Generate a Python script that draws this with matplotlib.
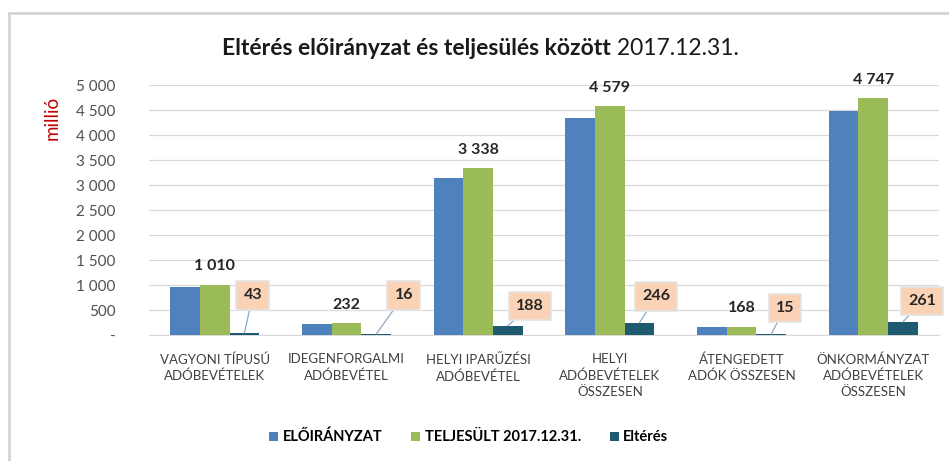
import numpy as np
import matplotlib
matplotlib.use("Agg")
import matplotlib.pyplot as plt
from matplotlib.patches import Rectangle
from matplotlib.ticker import FuncFormatter

plt.rcParams['font.family'] = ['Lato', 'DejaVu Sans']

# adatok (millió Ft)
categories = ["VAGYONI TÍPUSÚ\nADÓBEVÉTELEK", "IDEGENFORGALMI\nADÓBEVÉTEL",
              "HELYI IPARŰZÉSI\nADÓBEVÉTEL", "HELYI\nADÓBEVÉTELEK\nÖSSZESEN",
              "ÁTENGEDETT\nADÓK ÖSSZESEN", "ÖNKORMÁNYZAT\nADÓBEVÉTELEK\nÖSSZESEN"]
eloiranyzat = [967, 216, 3150, 4333, 153, 4486]
teljesult = [1010, 232, 3338, 4579, 168, 4747]
elteres = [43, 16, 188, 246, 15, 261]
series_names = ["ELŐIRÁNYZAT", "TELJESÜLT 2017.12.31.", "Eltérés"]

# a cimkek eltolasa (pont)
box_offsets = [(6, 27), (20, 28), (16, 14), (12, 19), (10, 19), (14, 15)]

fig = plt.figure(figsize=(9.49, 4.61), dpi=100)
ax = fig.add_axes([0.157, 0.2733, 0.8325, 0.5423])

x = np.arange(len(categories))
w = 0.225
c_blue, c_green, c_dark = "#4F81BD", "#9BBB59", "#1E5B70"
ax.bar(x - w, eloiranyzat, w, color=c_blue, label=series_names[0], zorder=3)
ax.bar(x, teljesult, w, color=c_green, label=series_names[1], zorder=3)
ax.bar(x + w, elteres, w, color=c_dark, label=series_names[2], zorder=3)

fmt = lambda v: f"{int(v):,}".replace(",", " ")

for i, v in enumerate(teljesult):
    ax.annotate(fmt(v), (x[i], v), xytext=(0, 8), textcoords="offset points",
                ha="center", va="bottom", fontsize=11.5, fontweight="bold", color="#262626")

for i, v in enumerate(elteres):
    ax.annotate(fmt(v), (x[i] + w, v), xytext=box_offsets[i], textcoords="offset points",
                ha="center", va="center", fontsize=11.5, fontweight="bold", color="#262626",
                bbox=dict(boxstyle="square,pad=0.45", fc="#FAD3B6", ec="#E4E4E4", lw=1.2),
                arrowprops=dict(arrowstyle="-", color="#8EA9C8", lw=0.9, shrinkA=0, shrinkB=0),
                zorder=5)

ax.set_xlim(-0.5, len(categories) - 0.5)
ax.set_ylim(0, 5000)
ax.set_yticks(np.arange(0, 5001, 500))
ax.yaxis.set_major_formatter(FuncFormatter(lambda v, p: "-" if v == 0 else fmt(v)))
ax.set_xticks(x)
ax.set_xticklabels(categories, fontsize=9.5, color="#404040", linespacing=1.4)
ax.tick_params(axis="y", length=0, pad=24, labelsize=11, labelcolor="#505050")
ax.tick_params(axis="x", length=0, pad=13)
ax.grid(axis="y", color="#D9D9D9", lw=0.9, zorder=0)
for s in ["left", "right", "top"]:
    ax.spines[s].set_visible(False)
ax.spines["bottom"].set_color("#D9D9D9")

fig.text(0.055, 0.745, "millió", rotation=90, color="#C00000", fontsize=13.5,
         ha="center", va="center")

t1 = fig.text(0.234, 0.895, "Eltérés előirányzat és teljesülés között", fontsize=16.5,
              fontweight="bold", color="#1a1a1a", ha="left", va="center")
ax.annotate(" 2017.12.31.", xy=(1, 0.5), xycoords=t1, ha="left", va="center",
            fontsize=16.5, color="#1a1a1a", annotation_clip=False)

fig.legend(loc="center", bbox_to_anchor=(0.494, 0.052), ncol=3, frameon=False,
           handlelength=0.6, handleheight=0.6, handletextpad=0.3, columnspacing=2.0,
           prop={"weight": "bold", "size": 10.5})

fig.patches.append(Rectangle((9 / 949, -0.1), 1.2, 1 - 13 / 461 + 0.1,
                             transform=fig.transFigure, fill=False, ec="#D4D4D4", lw=2))

fig.savefig("out.png", dpi=100)
